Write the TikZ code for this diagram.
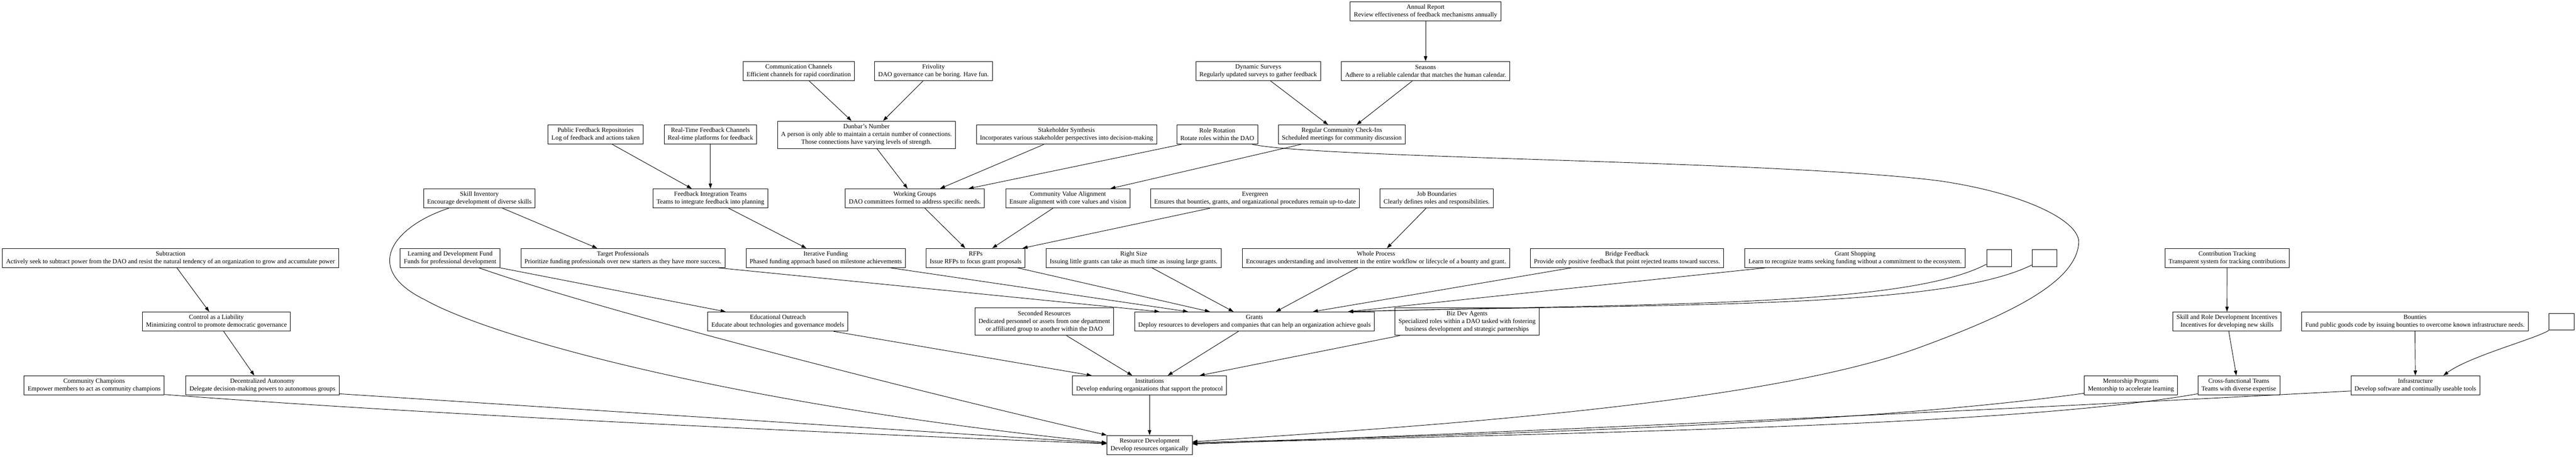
\documentclass[tikz,border=0pt]{standalone}
\usepackage{fontspec}
\setmainfont{Liberation Serif}
\usepackage{tikz}
\usetikzlibrary{arrows.meta}

\begin{document}
\begin{tikzpicture}[
  x=2cm, y=2cm,
  font=\fontsize{10.35}{12.42}\selectfont,
  line width=0.75pt,
  box/.style  ={draw, inner xsep=5.9pt, inner ysep=2pt, minimum height=1.09cm, align=center},
  tall/.style ={box, minimum height=1.55cm},
  blank/.style={draw, minimum width=1.42cm, minimum height=0.96cm},
  >={Triangle[length=8pt,width=5.5pt]}
]
\useasboundingbox (0,0) rectangle (73.03,12.95);

\node[box] (annual)   at (40.415,12.625) {Annual Report\\Review effectiveness of feedback mechanisms annually};

\node[box] (channels) at (22.645,10.935) {Communication Channels\\Efficient channels for rapid coordination};
\node[box] (frivol)   at (26.465,10.935) {Frivolity\\DAO governance can be boring. Have fun.};
\node[box] (surveys)  at (35.67,10.935)  {Dynamic Surveys\\Regularly updated surveys to gather feedback};
\node[box] (seasons)  at (40.415,10.935) {Seasons\\Adhere to a reliable calendar that matches the human calendar.};

\node[box]  (pubrepo)  at (16.885,9.135) {Public Feedback Repositories\\Log of feedback and actions taken};
\node[box]  (realtime) at (20.14,9.135)  {Real-Time Feedback Channels\\Real-time platforms for feedback};
\node[tall] (dunbar)   at (24.565,9.13)  {Dunbar's Number\\A person is only able to maintain a certain number of connections.\\Those connections have varying levels of strength.};
\node[box]  (stake)    at (30.235,9.135) {Stakeholder Synthesis\\Incorporates various stakeholder perspectives into decision-making};
\node[box]  (rotation) at (34.51,9.135)  {Role Rotation\\Rotate roles within the DAO};
\node[box]  (checkin)  at (38.04,9.135)  {Regular Community Check-Ins\\Scheduled meetings for community discussion};

\node[box] (skillinv)  at (13.59,7.325)  {Skill Inventory\\Encourage development of diverse skills};
\node[box] (fbteams)   at (20.14,7.325)  {Feedback Integration Teams\\Teams to integrate feedback into planning};
\node[box] (wgroups)   at (25.935,7.325) {Working Groups\\DAO committees formed to address specific needs.};
\node[box] (valign)    at (30.275,7.325) {Community Value Alignment\\Ensure alignment with core values and vision};
\node[box] (evergreen) at (35.58,7.325)  {Evergreen\\Ensures that bounties, grants, and organizational procedures remain up-to-date};
\node[box] (jobs)      at (40.73,7.325)  {Job Boundaries\\Clearly defines roles and responsibilities.};

\node[box]   (subtr)     at (4.835,5.635)  {Subtraction\\Actively seek to subtract power from the DAO and resist the natural tendency of an organization to grow and accumulate power};
\node[box]   (ldfund)    at (12.76,5.635)  {Learning and Development Fund\\Funds for professional development};
\node[box]   (tprof)     at (17.66,5.635)  {Target Professionals\\Prioritize funding professionals over new starters as they have more success.};
\node[box]   (iterfund)  at (23.41,5.635)  {Iterative Funding\\Phased funding approach based on milestone achievements};
\node[box]   (rfps)      at (27.66,5.635)  {RFPs\\Issue RFPs to focus grant proposals};
\node[box]   (rightsize) at (32.14,5.635)  {Right Size\\Issuing little grants can take as much time as issuing large grants.};
\node[box]   (whole)     at (39.01,5.635)  {Whole Process\\Encourages understanding and involvement in the entire workflow or lifecycle of a bounty and grant.};
\node[box]   (bridge)    at (46.125,5.635) {Bridge Feedback\\Provide only positive feedback that point rejected teams toward success.};
\node[box]   (gshop)     at (52.59,5.635)  {Grant Shopping\\Learn to recognize teams seeking funding without a commitment to the ecosystem.};
\node[blank] (blankA)    at (56.675,5.635) {};
\node[blank] (blankB)    at (57.965,5.635) {};
\node[box]   (ctrack)    at (63.14,5.635)  {Contribution Tracking\\Transparent system for tracking contributions};

\node[box]   (control)  at (6.135,3.835)  {Control as a Liability\\Minimizing control to promote democratic governance};
\node[box]   (eduout)   at (22.05,3.835)  {Educational Outreach\\Educate about technologies and governance models};
\node[tall]  (seconded) at (29.605,3.83)  {Seconded Resources\\Dedicated personnel or assets from one department\\or affiliated group to another within the DAO};
\node[box]   (grants)   at (35.565,3.835) {Grants\\Deploy resources to developers and companies that can help an organization achieve goals};
\node[tall]  (bizdev)   at (41.59,3.83)   {Biz Dev Agents\\Specialized roles within a DAO tasked with fostering\\business development and strategic partnerships};
\node[box]   (srdi)     at (63.135,3.835) {Skill and Role Development Incentives\\Incentives for developing new skills};
\node[box]   (bounties) at (68.465,3.835) {Bounties\\Fund public goods code by issuing bounties to overcome known infrastructure needs.};
\node[blank] (blankC)   at (72.62,3.83)   {};

\node[box] (champs) at (2.67,2.025)   {Community Champions\\Empower members to act as community champions};
\node[box] (decaut) at (7.44,2.025)   {Decentralized Autonomy\\Delegate decision-making powers to autonomous groups};
\node[box] (inst)   at (32.59,2.025)  {Institutions\\Develop enduring organizations that support the protocol};
\node[box] (mentor) at (60.41,2.025)  {Mentorship Programs\\Mentorship to accelerate learning};
\node[box] (xfunc)  at (63.47,2.025)  {Cross-functional Teams\\Teams with diverse expertise};
\node[box] (infra)  at (68.475,2.025) {Infrastructure\\Develop software and continually useable tools};

\node[box] (resdev) at (32.59,0.335) {Resource Development\\Develop resources organically};

% feedback and governance
\draw[->] (annual.south) -- (seasons.north);
\draw[->] ([xshift=0.70cm]surveys.south) -- ([xshift=-0.78cm]checkin.north);
\draw[->] ([xshift=-0.75cm]seasons.south) -- ([xshift=0.84cm]checkin.north);
\draw[->] ([xshift=0.59cm]channels.south) -- ([xshift=-0.85cm]dunbar.north);
\draw[->] ([xshift=-0.59cm]frivol.south) -- ([xshift=0.94cm]dunbar.north);
\draw[->] ([xshift=0.95cm]pubrepo.south) -- ([xshift=-1.06cm]fbteams.north);
\draw[->] (realtime.south) -- (fbteams.north);
\draw[->] ([xshift=0.59cm]dunbar.south) -- ([xshift=-0.41cm]wgroups.north);
\draw[->] ([xshift=-1.28cm]stake.south) -- ([xshift=1.43cm]wgroups.north);
\draw[->] ([xshift=-2.04cm]rotation.south) -- ([xshift=3.05cm]wgroups.north);
\draw[->] ([xshift=-2.32cm]checkin.south) -- ([xshift=2.41cm]valign.north);
\draw[->] ([xshift=1.32cm]skillinv.south) -- ([xshift=-1.46cm]tprof.north);
\draw[->] ([xshift=1.04cm]fbteams.south) -- ([xshift=-1.10cm]iterfund.north);
\draw[->] ([xshift=0.57cm]wgroups.south) -- ([xshift=-0.59cm]rfps.north);
\draw[->] ([xshift=-0.85cm]valign.south) -- ([xshift=0.94cm]rfps.north);
\draw[->] ([xshift=-2.56cm]evergreen.south) -- ([xshift=2.66cm]rfps.north);
\draw[->] ([xshift=-0.60cm]jobs.south) -- ([xshift=0.62cm]whole.north);
\draw[->] ([xshift=0.36cm]subtr.south) -- ([xshift=-0.41cm]control.north);
\draw[->] ([xshift=0.41cm]control.south) -- ([xshift=-0.46cm]decaut.north);
\draw[->] (ldfund.south east) -- ([xshift=-2.96cm]eduout.north);

% into grants
\draw[->] ([xshift=5.42cm]tprof.south) -- ([xshift=-5.39cm]grants.north);
\draw[->] ([xshift=3.68cm]iterfund.south) -- ([xshift=-3.77cm]grants.north);
\draw[->] ([xshift=2.38cm]rfps.south) -- ([xshift=-2.53cm]grants.north);
\draw[->] ([xshift=1.04cm]rightsize.south) -- ([xshift=-1.19cm]grants.north);
\draw[->] ([xshift=-1.06cm]whole.south) -- ([xshift=1.21cm]grants.north);
\draw[->] ([xshift=-3.17cm]bridge.south) -- ([xshift=3.31cm]grants.north);
\draw[->] ([xshift=-5.10cm]gshop.south) -- ([xshift=5.31cm]grants.north);
\draw[->] ([yshift=0.14cm]blankA.south west) .. controls (54.00,4.25) and (47.00,4.35) .. ([xshift=5.31cm]grants.north);
\draw[->] ([yshift=0.10cm]blankB.south west) .. controls (55.00,4.15) and (47.00,4.35) .. ([xshift=5.31cm]grants.north);

% right cluster
\draw[->] (ctrack.south) -- (srdi.north);
\draw[->] ([xshift=0.10cm]srdi.south) -- ([xshift=-0.14cm]xfunc.north);
\draw[->] (bounties.south) -- (infra.north);
\draw[->] (blankC.south west) .. controls (71.90,3.35) and (70.00,2.85) .. ([xshift=1.59cm]infra.north);

% into institutions
\draw[->] ([xshift=3.16cm]eduout.south) -- ([xshift=-3.28cm]inst.north);
\draw[->] ([xshift=1.26cm]seconded.south) -- ([xshift=-0.98cm]inst.north);
\draw[->] ([xshift=-0.91cm]grants.south) -- ([xshift=1.03cm]inst.north);
\draw[->] ([xshift=-3.80cm]bizdev.south) -- ([xshift=2.84cm]inst.north);

% into resource development
\draw[->] (inst.south) -- (resdev.north);
\draw[->] ([xshift=-1.74cm]skillinv.south) .. controls (11.20,6.55) and (10.20,5.35) .. (12.05,4.45)
  .. controls (14.00,3.35) and (21.00,1.45) .. ([yshift=0.13cm]resdev.west);
\draw[->] ([xshift=1.64cm]ldfund.south) .. controls (17.00,4.15) and (26.00,1.85) .. (resdev.north west);
\draw[->] ([yshift=0.08cm]decaut.south east) -- ([yshift=0.10cm]resdev.west);
\draw[->] ([yshift=0.04cm]champs.south east) .. controls (12.00,1.20) and (24.00,0.65) .. ([yshift=0.07cm]resdev.west);
\draw[->] ([xshift=1.98cm]rotation.south) .. controls (37.50,8.45) and (50.50,8.40) .. (55.00,7.82)
  .. controls (57.50,7.45) and (59.00,6.65) .. (58.93,6.05)
  .. controls (58.85,4.95) and (57.00,4.05) .. (54.50,3.13)
  .. controls (50.00,1.45) and (40.00,0.85) .. ([yshift=0.18cm]resdev.east);
\draw[->] ([yshift=0.11cm]mentor.south west) .. controls (53.00,0.95) and (43.00,0.65) .. ([yshift=0.13cm]resdev.east);
\draw[->] ([yshift=0.08cm]xfunc.south west) .. controls (57.00,0.85) and (45.00,0.70) .. ([yshift=0.08cm]resdev.east);
\draw[->] ([yshift=0.24cm]infra.south west) .. controls (56.00,1.30) and (43.00,0.70) .. ([yshift=0.05cm]resdev.east);
\end{tikzpicture}
\end{document}
